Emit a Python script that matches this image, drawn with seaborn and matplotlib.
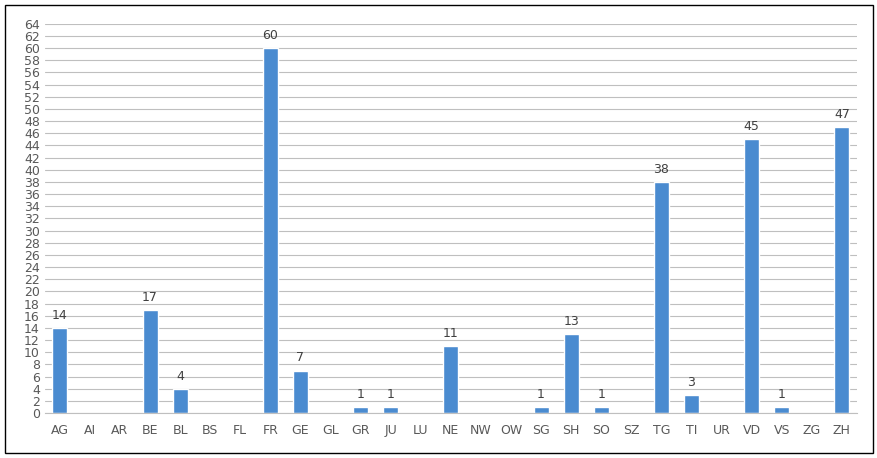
import matplotlib
matplotlib.use("Agg")
import matplotlib.pyplot as plt
import seaborn as sns
import pandas as pd
from matplotlib.patches import Rectangle

categories = ["AG","AI","AR","BE","BL","BS","FL","FR","GE","GL","GR","JU","LU","NE","NW","OW","SG","SH","SO","SZ","TG","TI","UR","VD","VS","ZG","ZH"]
values = [14,0,0,17,4,0,0,60,7,0,1,1,0,11,0,0,1,13,1,0,38,3,0,45,1,0,47]

sns.set_style("white")
plt.rcParams['font.family'] = ['DejaVu Sans']
fig = plt.figure(figsize=(8.78, 4.58), dpi=100)
ax = fig.add_axes([0.051, 0.098, 0.925, 0.85])
df = pd.DataFrame({"c": categories, "v": values})
sns.barplot(data=df, x="c", y="v", ax=ax, color="#4A8BD0", saturation=1, width=0.5)
ax.set_ylim(0, 64)
ax.set_yticks(range(0, 65, 2))
ax.set_xlim(-0.5, len(categories) - 0.5)
ax.grid(axis="y", color="#BFBFBF", linewidth=0.8)
ax.set_axisbelow(True)
for s in ["top", "right", "left"]:
    ax.spines[s].set_visible(False)
ax.spines["bottom"].set_color("#BFBFBF")
ax.tick_params(axis="both", colors="#595959", labelsize=9, length=0)
ax.tick_params(axis="x", pad=8)
ax.set_xlabel(""); ax.set_ylabel("")
for i, v in enumerate(values):
    if v > 0:
        ax.text(i, v + 1, str(v), ha="center", va="bottom", fontsize=9, color="#404040")
fig.patches.append(Rectangle((0.006, 0.01), 0.988, 0.98, transform=fig.transFigure,
                             fill=False, edgecolor="black", linewidth=1))
fig.savefig("out.png", dpi=100)
